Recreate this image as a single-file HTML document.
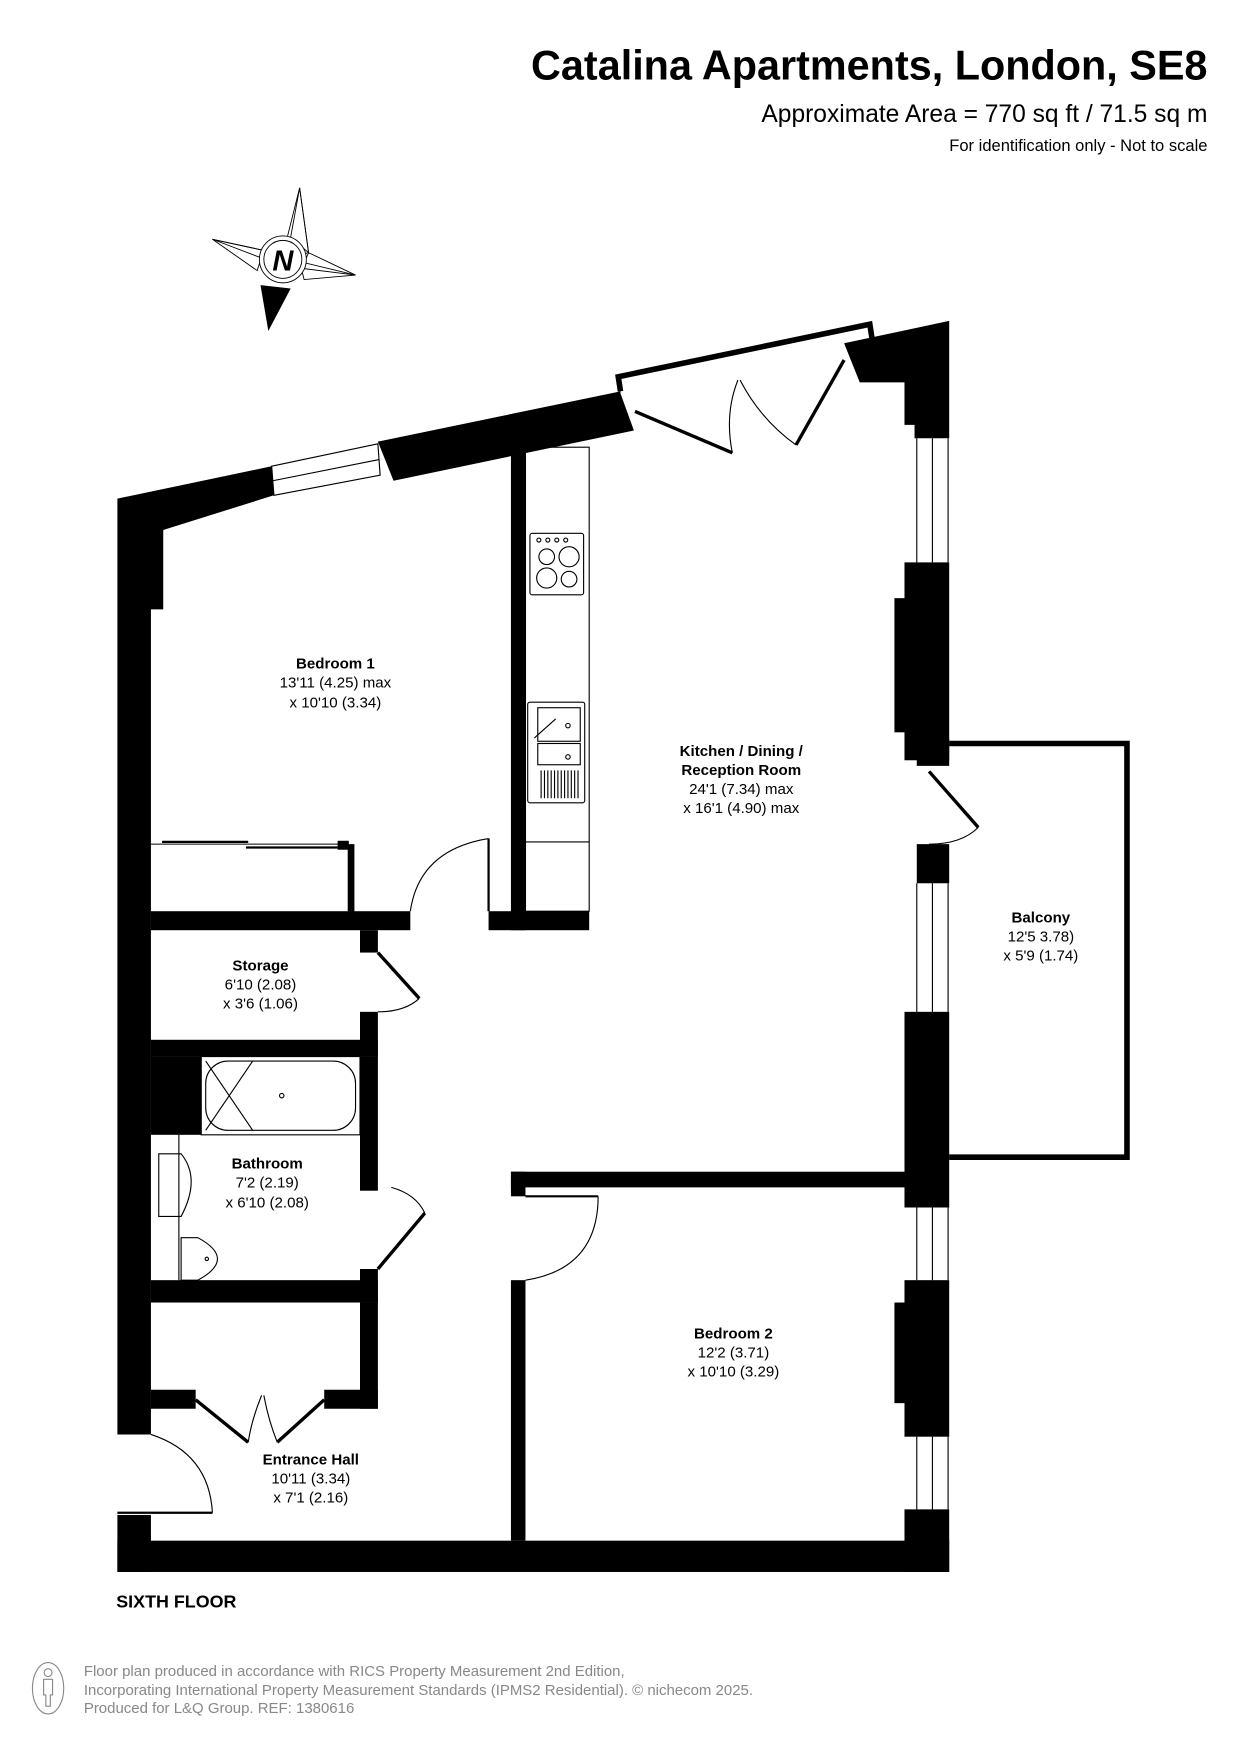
<!DOCTYPE html>
<html><head><meta charset="utf-8"><style>
html,body{margin:0;padding:0;background:#fff;}
svg{display:block;}
text{font-family:"Liberation Sans",Arial,sans-serif;}
</style></head><body>
<svg width="1241" height="1755" viewBox="0 0 1110 1569.7" preserveAspectRatio="none" xmlns="http://www.w3.org/2000/svg">
<rect width="1110" height="1570" fill="#fff"/>
<!-- Titles -->
<text x="1080" y="71" text-anchor="end" font-size="37" font-weight="bold">Catalina Apartments, London, SE8</text>
<text x="1080" y="109" text-anchor="end" font-size="22">Approximate Area = 770 sq ft / 71.5 sq m</text>
<text x="1080" y="135" text-anchor="end" font-size="14.8">For identification only - Not to scale</text>
<!-- Compass -->
<g stroke="#000" stroke-width="0.8" fill="none">
<polygon points="268,168 276,226 252,232 "/>
<polygon points="268,168 260,212 276,226"/>
<polygon points="190,214 236,224 230,242"/>
<polygon points="190,214 232,230 236,224"/>
<polygon points="318,246 268,234 272,250"/>
<polygon points="318,246 270,240 276,226"/>
<circle cx="253" cy="232" r="21" fill="#fff"/>
<circle cx="253" cy="232" r="17"/>
</g>
<polygon points="240,296 233,255 260,258" fill="#000"/>
<text x="253" y="242" text-anchor="middle" font-size="26" font-weight="bold" font-style="italic">N</text>
<!-- Walls -->
<g fill="#000">
<polygon points="105,446 243,417 245,443 146,474 146,545 135,545 135,1283 105,1283"/>
<polygon points="338,395 555,350 555,352 567,385 352,430"/>
<polygon points="755,307 849,287 849,392 818,392 818,380 809,380 809,342 769,342"/>
<rect x="809" y="503" width="40" height="177"/>
<rect x="800" y="535" width="12" height="120"/>
<rect x="820" y="660" width="29" height="25"/>
<rect x="820" y="755" width="29" height="35"/>
<rect x="809" y="905" width="40" height="175"/>
<rect x="809" y="1145" width="40" height="140"/>
<rect x="800" y="1165" width="12" height="90"/>
<rect x="809" y="1350" width="40" height="56"/>
<rect x="105" y="1378" width="744" height="28"/>
<rect x="105" y="1355" width="30" height="51"/>
<rect x="457" y="405" width="13" height="427"/>
<rect x="437" y="815" width="90" height="17"/>
<rect x="135" y="815" width="232" height="17"/>
<rect x="311" y="755" width="6" height="62"/>
<rect x="302" y="752" width="10" height="8"/>
<rect x="322" y="832" width="16" height="20"/>
<rect x="322" y="905" width="16" height="40"/>
<rect x="135" y="930" width="203" height="15"/>
<rect x="135" y="945" width="45" height="70"/>
<rect x="322" y="945" width="16" height="120"/>
<rect x="322" y="1135" width="16" height="30"/>
<rect x="135" y="1145" width="203" height="20"/>
<rect x="322" y="1165" width="16" height="95"/>
<rect x="135" y="1243" width="40" height="17"/>
<rect x="290" y="1243" width="48" height="17"/>
<rect x="457" y="1048" width="353" height="14"/>
<rect x="457" y="1048" width="13" height="22"/>
<rect x="457" y="1145" width="13" height="233"/>
</g>
<g stroke="#000" stroke-width="1" fill="none">
<polygon points="243,417 338,397 340,425 245,443"/>
<line x1="244" y1="430" x2="339" y2="411"/>
<polyline points="555,350 553,337 778,290 780,303" stroke-width="5"/>
<line x1="568" y1="368" x2="655" y2="405" stroke-width="3"/>
<line x1="712" y1="398" x2="755" y2="322" stroke-width="3"/>
<path d="M655,405 Q648,370 660,340"/>
<path d="M712,398 Q680,375 662,340"/>
<line x1="820" y1="392" x2="820" y2="503"/><line x1="834" y1="392" x2="834" y2="503"/><line x1="848" y1="392" x2="848" y2="503"/>
<line x1="820" y1="790" x2="820" y2="905"/><line x1="834" y1="790" x2="834" y2="905"/><line x1="848" y1="790" x2="848" y2="905"/>
<line x1="820" y1="1080" x2="820" y2="1145"/><line x1="834" y1="1080" x2="834" y2="1145"/><line x1="848" y1="1080" x2="848" y2="1145"/>
<line x1="820" y1="1285" x2="820" y2="1350"/><line x1="834" y1="1285" x2="834" y2="1350"/><line x1="848" y1="1285" x2="848" y2="1350"/>
<line x1="831" y1="690" x2="875" y2="740" stroke-width="3"/>
<path d="M875,740 Q860,755 831,755"/>
<polyline points="849,665 1008,665 1008,1035 849,1035" stroke-width="5"/>
<rect x="470" y="400" width="57" height="415"/>
<line x1="470" y1="753" x2="527" y2="753"/>
<rect x="474" y="477" width="48" height="55" rx="2"/>
<circle cx="482" cy="483" r="1.8"/><circle cx="490" cy="483" r="1.8"/><circle cx="498" cy="483" r="1.8"/><circle cx="506" cy="483" r="1.8"/>
<circle cx="489" cy="498" r="7"/><circle cx="509" cy="498" r="9"/><circle cx="489" cy="517" r="9"/><circle cx="509" cy="518" r="7"/>
<rect x="472" y="628" width="51" height="90" rx="2"/>
<rect x="481" y="633" width="38" height="30"/>
<rect x="481" y="665" width="38" height="19"/>
<circle cx="508" cy="649" r="2"/><circle cx="508" cy="677" r="2"/>
<line x1="478" y1="660" x2="497" y2="643"/>
<path d="M484,689 v25 M487,689 v25 M490,689 v25 M493,689 v25 M496,689 v25 M499,689 v25 M502,689 v25 M505,689 v25 M508,689 v25 M511,689 v25 M514,689 v25 M517,689 v25"/>
<line x1="135" y1="755" x2="311" y2="755"/>
<line x1="145" y1="753" x2="222" y2="753" stroke-width="2"/>
<line x1="220" y1="758" x2="305" y2="758" stroke-width="2"/>
<line x1="437" y1="750" x2="437" y2="815" stroke-width="2"/>
<path d="M437,750 Q375,760 367,815"/>
<line x1="338" y1="852" x2="375" y2="893" stroke-width="3"/>
<path d="M375,893 Q362,905 338,905"/>
<rect x="180" y="945" width="142" height="70"/>
<rect x="184" y="949" width="134" height="62" rx="20"/>
<line x1="184" y1="949" x2="226" y2="1011"/><line x1="226" y1="949" x2="184" y2="1011"/>
<circle cx="252" cy="980" r="2"/>
<line x1="160" y1="1015" x2="160" y2="1145"/>
<path d="M142,1032 h20 q18,22 0,56 h-20 z"/>
<path d="M162,1110 h15 q35,19 0,38 h-15 z" transform="translate(0,-3)"/>
<circle cx="185" cy="1126" r="1.5"/>
<line x1="338" y1="1135" x2="380" y2="1085" stroke-width="3"/>
<path d="M380,1085 Q372,1068 350,1062"/>
<line x1="175" y1="1252" x2="222" y2="1290" stroke-width="3"/>
<line x1="290" y1="1252" x2="248" y2="1290" stroke-width="3"/>
<path d="M222,1290 Q225,1270 234,1248"/>
<path d="M248,1290 Q240,1270 236,1248"/>
<line x1="470" y1="1070" x2="535" y2="1070" stroke-width="2"/>
<path d="M535,1070 Q535,1135 470,1145"/>
<line x1="105" y1="1353" x2="190" y2="1353" stroke-width="2"/>
<path d="M190,1353 Q187,1300 135,1283"/>
</g>
<g font-size="13.5" text-anchor="middle">
<text x="300" y="598" font-weight="bold">Bedroom 1</text>
<text x="300" y="615">13'11 (4.25) max</text>
<text x="300" y="633">x 10'10 (3.34)</text>
<text x="663" y="676" font-weight="bold">Kitchen / Dining /</text>
<text x="663" y="693" font-weight="bold">Reception Room</text>
<text x="663" y="710">24'1 (7.34) max</text>
<text x="663" y="727">x 16'1 (4.90) max</text>
<text x="931" y="825" font-weight="bold">Balcony</text>
<text x="931" y="842">12'5 3.78)</text>
<text x="931" y="859">x 5'9 (1.74)</text>
<text x="233" y="868" font-weight="bold">Storage</text>
<text x="233" y="885">6'10 (2.08)</text>
<text x="233" y="902">x 3'6 (1.06)</text>
<text x="239" y="1045" font-weight="bold">Bathroom</text>
<text x="239" y="1062">7'2 (2.19)</text>
<text x="239" y="1080">x 6'10 (2.08)</text>
<text x="656" y="1197" font-weight="bold">Bedroom 2</text>
<text x="656" y="1214">12'2 (3.71)</text>
<text x="656" y="1231">x 10'10 (3.29)</text>
<text x="278" y="1310" font-weight="bold">Entrance Hall</text>
<text x="278" y="1327">10'11 (3.34)</text>
<text x="278" y="1344">x 7'1 (2.16)</text>
</g>
<text x="104" y="1438" font-size="16" font-weight="bold">SIXTH FLOOR</text>
<g fill="#888" font-size="13.4">
<text x="75" y="1499">Floor plan produced in accordance with RICS Property Measurement 2nd Edition,</text>
<text x="75" y="1516">Incorporating International Property Measurement Standards (IPMS2 Residential).   © nichecom 2025.</text>
<text x="75" y="1532">Produced for L&amp;Q Group.   REF:  1380616</text>
</g>
<g stroke="#888" fill="none" stroke-width="1">
<ellipse cx="43" cy="1510" rx="14" ry="23"/>
<circle cx="43" cy="1496" r="3.5"/>
<path d="M39,1502 h8 v14 h-2 v10 h-4 v-10 h-2 z"/>
</g>
</svg>
</body></html>
